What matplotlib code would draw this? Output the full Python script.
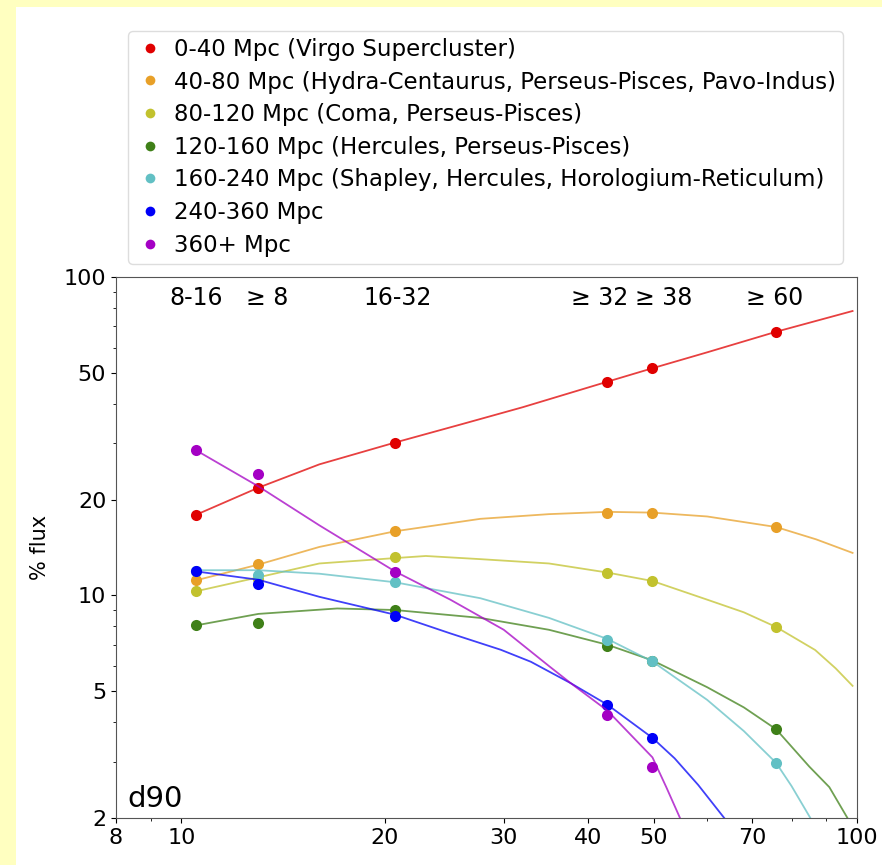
import numpy as np
import matplotlib.pyplot as plt
from matplotlib.lines import Line2D
from matplotlib.patches import Rectangle

# measured points (d90 bins)
x_pts = [10.5, 13.0, 20.7, 42.7, 49.8, 75.9]
red_pts = [17.9, 21.8, 30.2, 46.9, 51.7, 67.3]
orange_pts = [11.15, 12.55, 15.9, 18.2, 18.2, 16.4]
olive_pts = [10.3, 11.3, 13.2, 11.8, 11.1, 7.96]
green_pts = [8.05, 8.18, 9.0, 6.93, 6.23, 3.80]
cyan_pts = [11.9, 11.6, 11.05, 7.26, 6.21, 2.98]
blue_pts = [11.9, 10.85, 8.61, 4.54, 3.57, np.nan]
purple_pts = [28.6, 24.1, 11.85, 4.22, 2.90, np.nan]

# smooth trend curves
red_cx = [10.5, 13, 16, 20.7, 26, 32, 42.7, 49.8, 60, 75.9, 98.5]
red_cy = [17.9, 21.8, 25.8, 30.2, 34.5, 39.0, 46.9, 51.7, 58.0, 67.3, 78.2]
orange_cx = [10.5, 13, 16, 20.7, 27.7, 35, 42.7, 49.8, 60, 75.9, 87, 98.5]
orange_cy = [11.15, 12.5, 14.2, 15.9, 17.4, 18.0, 18.3, 18.2, 17.7, 16.4, 15.0, 13.6]
olive_cx = [10.5, 13, 16, 20.7, 23, 27.7, 35, 42.7, 49.8, 60, 68, 75.9, 86.7, 93, 98.5]
olive_cy = [10.3, 11.4, 12.6, 13.1, 13.3, 13.0, 12.6, 11.8, 11.1, 9.7, 8.85, 7.96, 6.74, 5.9, 5.2]
green_cx = [10.5, 13, 17, 20.7, 27.7, 35, 42.7, 49.8, 60, 68, 75.9, 85, 91, 96.8]
green_cy = [8.05, 8.75, 9.1, 9.0, 8.5, 7.8, 7.0, 6.25, 5.15, 4.45, 3.8, 2.9, 2.5, 2.0]
cyan_cx = [10.5, 13, 16, 20.7, 27.7, 35, 42.7, 49.8, 60, 68, 75.9, 80, 85.3]
cyan_cy = [12.0, 12.0, 11.7, 11.0, 9.8, 8.5, 7.3, 6.2, 4.7, 3.75, 2.98, 2.52, 2.0]
blue_cx = [10.5, 13, 16, 20.7, 25, 29.7, 32.9, 37.7, 42.7, 49.8, 53.7, 58.2, 63.6]
blue_cy = [11.9, 11.2, 9.9, 8.7, 7.6, 6.75, 6.19, 5.3, 4.54, 3.57, 3.08, 2.54, 2.0]
purple_cx = [10.5, 13, 16, 20.7, 25, 30, 35, 37.7, 42.7, 49.8, 52.2, 54.7]
purple_cy = [28.6, 22.0, 16.6, 11.9, 9.7, 7.8, 6.0, 5.3, 4.35, 3.1, 2.5, 2.0]

labels = ['0-40 Mpc (Virgo Supercluster)',
          '40-80 Mpc (Hydra-Centaurus, Perseus-Pisces, Pavo-Indus)',
          '80-120 Mpc (Coma, Perseus-Pisces)',
          '120-160 Mpc (Hercules, Perseus-Pisces)',
          '160-240 Mpc (Shapley, Hercules, Horologium-Reticulum)',
          '240-360 Mpc',
          '360+ Mpc']
colors = ['#e00000', '#e8a028', '#c2c22e', '#3f8018', '#62c0c4', '#0000f8', '#a400c4']

bin_labels = ['8-16', '\u2265 8', '16-32', '\u2265 32', '\u2265 38', '\u2265 60']
bin_label_x = [10.5, 13.4, 20.9, 41.6, 51.8, 75.5]

pts = [red_pts, orange_pts, olive_pts, green_pts, cyan_pts, blue_pts, purple_pts]
curves = [(red_cx, red_cy), (orange_cx, orange_cy), (olive_cx, olive_cy),
          (green_cx, green_cy), (cyan_cx, cyan_cy), (blue_cx, blue_cy),
          (purple_cx, purple_cy)]

fig = plt.figure(figsize=(8.82, 8.65), dpi=100)
fig.patch.set_facecolor('#ffffc0')
fig.patches.append(Rectangle((16 / 882, 0), 1, 1 - 7 / 865, transform=fig.transFigure,
                             facecolor='white', edgecolor='none', zorder=-10))

ax = fig.add_axes([116 / 882, 1 - 818 / 865, 741 / 882, 541 / 865])
for c, (cx, cy), p in zip(colors, curves, pts):
    ax.plot(cx, cy, color=c, lw=1.3, alpha=0.75)
    ax.plot(x_pts, p, 'o', color=c, ms=8, mec='none')

ax.set_xscale('log')
ax.set_yscale('log')
ax.set_xlim(8, 100)
ax.set_ylim(2, 100)
xt = [8, 10, 20, 30, 40, 50, 70, 100]
yt = [2, 5, 10, 20, 50, 100]
ax.set_xticks(xt)
ax.set_xticklabels([str(v) for v in xt])
ax.set_yticks(yt)
ax.set_yticklabels([str(v) for v in yt])
ax.set_xticks([9, 60, 80, 90], minor=True)
ax.set_xticklabels([], minor=True)
ax.set_yticks([3, 4, 6, 7, 8, 9, 30, 40, 60, 70, 80, 90], minor=True)
ax.set_yticklabels([], minor=True)
ax.tick_params(labelsize=16)
for s in ax.spines.values():
    s.set_color('#555555')
ax.set_ylabel('% flux', fontsize=15, labelpad=10)

for t, xv in zip(bin_labels, bin_label_x):
    ax.text(xv, 86, t, fontsize=17, ha='center', va='center')
ax.text(0.016, 0.02, 'd90', fontsize=21, transform=ax.transAxes)

handles = [Line2D([], [], marker='o', ls='none', color=c, ms=7, mec='none') for c in colors]
fig.legend(handles, labels, loc='upper left', bbox_to_anchor=(128 / 882, 1 - 31 / 865),
           borderaxespad=0, fontsize=16.5, handletextpad=0.4, handlelength=1.3,
           labelspacing=0.42, borderpad=0.3,
           framealpha=1, edgecolor='#dddddd')

plt.savefig('out.png', dpi=100)
